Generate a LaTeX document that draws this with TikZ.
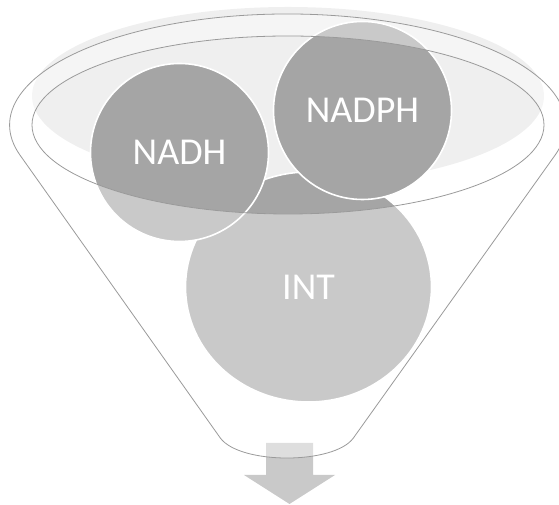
\documentclass[tikz,border=0pt]{standalone}
\usepackage{fontspec}
\setmainfont{Carlito}
\usetikzlibrary{shapes.geometric}
\definecolor{ballgrey}{HTML}{A5A5A5}
\definecolor{arrowgrey}{HTML}{C9C9C9}
\definecolor{rimshade}{HTML}{EFEFEF}
\definecolor{funnelline}{HTML}{9A9A9A}
\begin{document}
\begin{tikzpicture}[x=1pt,y=1pt,
  ball/.style={circle, draw=white, line width=1.6pt, fill=ballgrey,
    text=white, inner sep=0pt, minimum size=178pt,
    font=\fontsize{38}{40}\selectfont},
  funnelbody/.style={draw=funnelline, line width=0.8pt,
    fill=white, fill opacity=0.4, even odd rule}]
\useasboundingbox (0,0) rectangle (559,505);
\clip (0,0) rectangle (559,505);

% soft shading behind the funnel mouth
\fill[rimshade] (288,409) ellipse [x radius=256, y radius=89];

% outlet arrow below the funnel
\fill[arrowgrey] (266,62) -- (266,30) -- (244,30) -- (289.5,1)
  -- (335,30) -- (313,30) -- (313,62) -- cycle;

% items poured into the funnel
\node[ball, ellipse, minimum width=246pt, minimum height=230pt]
  (int) at (308.5,218) {INT};
\node[ball] (nadh) at (179.5,352.5) {NADH};
\node[ball] (nadph) at (362.5,394.5) {NADPH};

% funnel body: outer rim and cone, with the mouth left open
\path[funnelbody]
  (555.3,350.15) arc [start angle=-15.6, end angle=195.6,
                      x radius=278, y radius=111]
  -- (220.3,67) .. controls (240,40.3) and (334,40.3) .. (353.4,67)
  -- cycle
  (288,380) ellipse [x radius=256, y radius=89];
\end{tikzpicture}
\end{document}
